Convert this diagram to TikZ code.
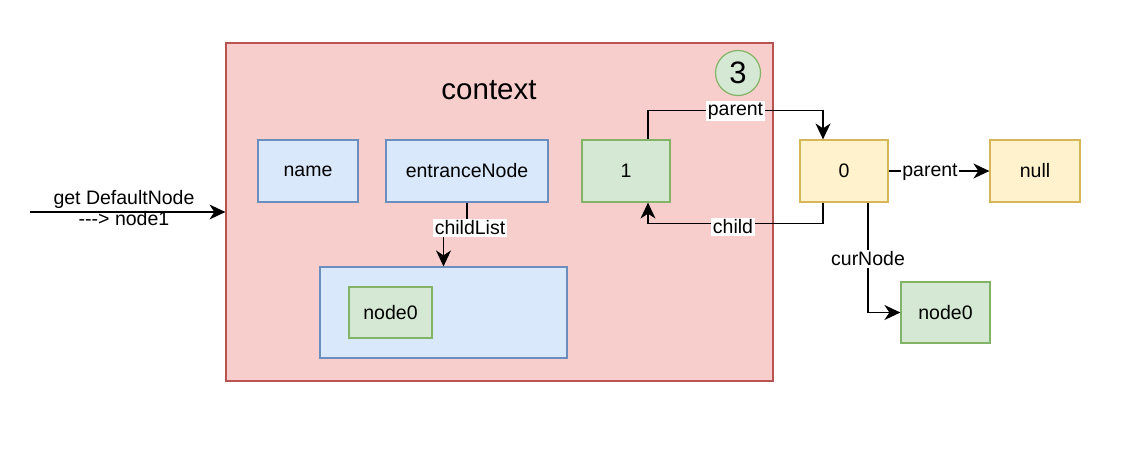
\documentclass[tikz,border=0pt]{standalone}
\usepackage{fontspec}
\setmainfont{Liberation Sans}
\usetikzlibrary{arrows.meta}
\definecolor{redfill}{HTML}{F8CECC}
\definecolor{redline}{HTML}{B85450}
\definecolor{bluefill}{HTML}{DAE8FC}
\definecolor{blueline}{HTML}{6C8EBF}
\definecolor{greenfill}{HTML}{D5E8D4}
\definecolor{greenline}{HTML}{82B366}
\definecolor{yellowfill}{HTML}{FFF2CC}
\definecolor{yellowline}{HTML}{D6B656}
\tikzset{
  txt/.style={font=\fontsize{19.5}{22}\selectfont, inner sep=1pt},
  box/.style={draw, line width=1.2pt, rectangle, inner sep=0pt, txt},
  bluebox/.style={box, fill=bluefill, draw=blueline},
  greenbox/.style={box, fill=greenfill, draw=greenline},
  yellowbox/.style={box, fill=yellowfill, draw=yellowline},
  conn/.style={line width=1.5pt, -{Stealth[length=16pt,width=15pt,inset=5pt]}},
  lbl/.style={txt, fill=white, inner sep=1.5pt},
}
\begin{document}
\begin{tikzpicture}[x=1pt,y=-1pt]
\useasboundingbox (0,0) rectangle (1126,448);
% context container
\node[box, fill=redfill, draw=redline, minimum width=547pt, minimum height=338pt] (ctx) at (499.5,212) {};
\node[font=\fontsize{29.5}{34}\selectfont] (title) at (489,90) {context};
\node[greenbox, circle, minimum size=45pt, font=\fontsize{31}{34}\selectfont] (three) at (738,73) {3};
% boxes
\node[bluebox, minimum width=100pt, minimum height=62pt] (name) at (308,171) {name};
\node[bluebox, minimum width=162pt, minimum height=62pt] (entr) at (467,171) {entranceNode};
\node[greenbox, minimum width=88pt, minimum height=62pt] (one) at (626,171) {1};
\node[yellowbox, minimum width=88pt, minimum height=62pt] (zero) at (844,171) {0};
\node[yellowbox, minimum width=90pt, minimum height=62pt] (null) at (1035,171) {null};
\node[bluebox, minimum width=247pt, minimum height=91pt] (list) at (443.5,312.5) {};
\node[greenbox, minimum width=83pt, minimum height=51pt] (nodea) at (390.5,312.5) {node0};
\node[greenbox, minimum width=89pt, minimum height=61pt] (nodeb) at (945.5,312.5) {node0};
% incoming arrow
\coordinate (start) at (30,212);
\draw[conn] (start) -- (ctx.west);
\node[txt, align=center] (inlbl) at (124,208) {get DefaultNode\\[-1pt]-{}-{}-> node1};
% childList
\draw[conn] (entr.south) -- ++(0,26) -| (list.north);
\node[lbl] (cl) at (470,228) {childList};
% parent 1 -> 0
\draw[conn] ([xshift=22pt]one.north) -- ++(0,-29) -| ([xshift=-21pt]zero.north);
\node[lbl] (p1) at (735.5,111) {parent};
% child 0 -> 1
\draw[conn] ([xshift=-21pt]zero.south) -- ++(0,21) -| ([xshift=22pt]one.south);
\node[lbl] (c1) at (733,227) {child};
% parent 0 -> null
\draw[conn] (zero.east) -- (null.west);
\node[lbl] (p2) at (930,172) {parent};
% curNode
\draw[conn] ([xshift=24pt]zero.south) |- (nodeb.west);
\node[lbl] (cn) at (868,259) {curNode};
\end{tikzpicture}
\end{document}
